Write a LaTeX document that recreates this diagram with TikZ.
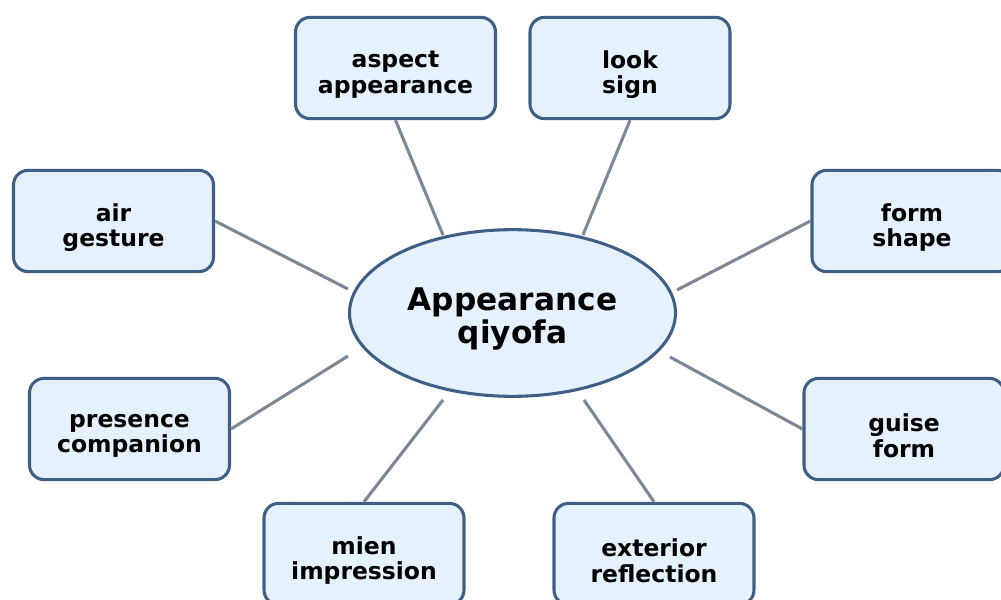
\documentclass[tikz,border=0pt]{standalone}
\usepackage{fontspec}
\setmainfont{DejaVu Sans}
\usetikzlibrary{shapes.geometric}
\definecolor{boxfill}{HTML}{E5F1FC}
\definecolor{boxline}{HTML}{405F86}
\definecolor{linkcol}{HTML}{7A8897}
\tikzset{
  leaf/.style={draw=boxline, fill=boxfill, line width=2.3pt, rounded corners=11pt,
    minimum width=150pt, minimum height=76pt, inner sep=0pt},
  leaftext/.style={inner sep=0pt, align=center,
    font=\fontsize{17.6}{19}\selectfont\bfseries},
  hub/.style={draw=boxline, fill=boxfill, line width=2.3pt, ellipse,
    minimum width=244.5pt, minimum height=125pt, inner sep=0pt},
  hubtext/.style={inner sep=0pt, align=center,
    font=\fontsize{23.4}{25}\selectfont\bfseries},
  link/.style={draw=linkcol, line width=2.3pt}
}
\begin{document}
\begin{tikzpicture}[x=0.75pt,y=-0.75pt]
\useasboundingbox (0,0) rectangle (1001,600);
\clip (0,0) rectangle (1001,600);
\node[hub] (c) at (512.5,313) {};
\node[hubtext] (ct) at ([yshift=-4.5pt]c.center) {Appearance\\qiyofa};
\node[leaf] (aspect) at (395.5,68) {};
\node[leaf] (look) at (630,68) {};
\node[leaf] (air) at (113.5,221) {};
\node[leaf] (form) at (912,221) {};
\node[leaf] (presence) at (129.5,429) {};
\node[leaf] (guise) at (904,429) {};
\node[leaf] (mien) at (364,554) {};
\node[leaf] (exterior) at (654,554) {};
\node[leaftext] (aspectT) at ([yshift=-5pt]aspect.center) {aspect\\appearance};
\node[leaftext] (lookT) at ([yshift=-5pt]look.center) {look\\sign};
\node[leaftext] (airT) at ([yshift=-5pt]air.center) {air\\gesture};
\node[leaftext] (formT) at ([yshift=-5pt]form.center) {form\\shape};
\node[leaftext] (presenceT) at ([yshift=-5pt]presence.center) {presence\\companion};
\node[leaftext] (guiseT) at ([yshift=-5pt]guise.center) {guise\\form};
\node[leaftext] (mienT) at ([yshift=-5pt]mien.center) {mien\\impression};
\node[leaftext] (exteriorT) at ([yshift=-5pt]exterior.center) {exterior\\reflection};
\coordinate (eA) at (443,235);
\coordinate (eL) at (583,235);
\coordinate (eAir) at (348,289);
\coordinate (eF) at (677,290);
\coordinate (eP) at (348,356);
\coordinate (eG) at (670,357);
\coordinate (eM) at (443,400);
\coordinate (eE) at (584,400);
\draw[link] (aspect.south) -- (eA);
\draw[link] (look.south) -- (eL);
\draw[link] (air.east) -- (eAir);
\draw[link] (form.west) -- (eF);
\draw[link] (presence.east) -- (eP);
\draw[link] (guise.west) -- (eG);
\draw[link] (mien.north) -- (eM);
\draw[link] (exterior.north) -- (eE);
\end{tikzpicture}
\end{document}
